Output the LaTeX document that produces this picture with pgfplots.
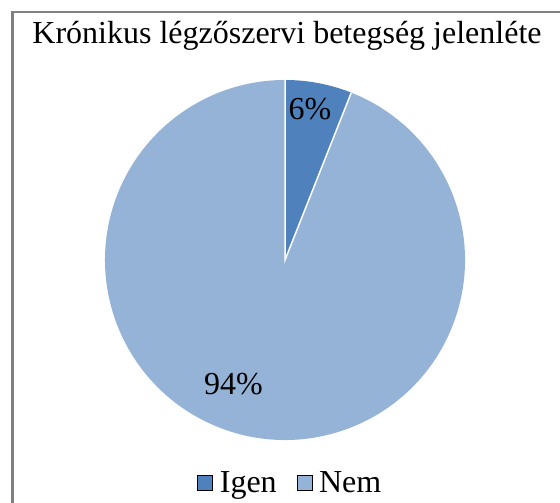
\documentclass[border=0pt]{standalone}
\usepackage{pgfplots}
\pgfplotsset{compat=1.18}
\usepackage{pgfplotstable}
\usepackage{fontspec}
\setmainfont{Liberation Serif}
\definecolor{igen}{RGB}{79,129,189}
\definecolor{nem}{RGB}{149,179,215}
\definecolor{frame}{RGB}{128,128,128}
\pgfplotstableread{
label value
Igen 6
Nem 94
}\piedata
\pgfplotstablegetelem{0}{value}\of\piedata
\edef\va{\pgfplotsretval}
\pgfplotstablegetelem{1}{value}\of\piedata
\edef\vb{\pgfplotsretval}
\pgfmathsetmacro{\aend}{90-3.6*\va}
\begin{document}%
\begin{tikzpicture}[x=1bp,y=1bp]
\draw[line width=2.5bp, color=frame] (12.5,-2) -- (12.5,491) -- (562,491);
\node[anchor=base, inner sep=0pt] at (287,459) {\fontsize{32bp}{38bp}\selectfont Krónikus légzőszervi betegség jelenléte};
\begin{axis}[at={(285bp,243bp)}, anchor=origin, x=180bp, y=180bp,
  xmin=-1, xmax=1, ymin=-1, ymax=1, hide axis, clip=false,
  legend columns=2,
  legend style={at={(axis cs:0.03,-1.235)}, anchor=center, draw=none, fill=none,
    font=\fontsize{32bp}{38bp}\selectfont, inner sep=0pt,
    /tikz/every odd column/.append style={column sep=5bp},
    /tikz/every even column/.append style={column sep=18bp}},
  legend image code/.code={\fill[#1] (0bp,-7.5bp) rectangle (15bp,7.5bp);},
]
\addlegendimage{fill=igen}
\addlegendentry{Igen}
\addlegendimage{fill=nem}
\addlegendentry{Nem}
\fill[nem] (axis cs:0,0) -- (axis cs:{cos(\aend)},{sin(\aend)}) arc[start angle=\aend, end angle=-270, radius=180bp] -- cycle;
\fill[igen] (axis cs:0,0) -- (axis cs:0,1) arc[start angle=90, end angle=\aend, radius=180bp] -- cycle;
\draw[white, line width=1.5bp] (axis cs:0,1) -- (axis cs:0,0) -- (axis cs:{cos(\aend)},{sin(\aend)});
\node[anchor=base, inner sep=0pt] at (axis cs:0.139,0.783) {\fontsize{32bp}{38bp}\selectfont \va\%};
\node[anchor=base, inner sep=0pt] at (axis cs:-0.286,-0.75) {\fontsize{32bp}{38bp}\selectfont \vb\%};
\end{axis}
\pgfresetboundingbox
\useasboundingbox (0,0) rectangle (560,503);
\end{tikzpicture}%
\end{document}
